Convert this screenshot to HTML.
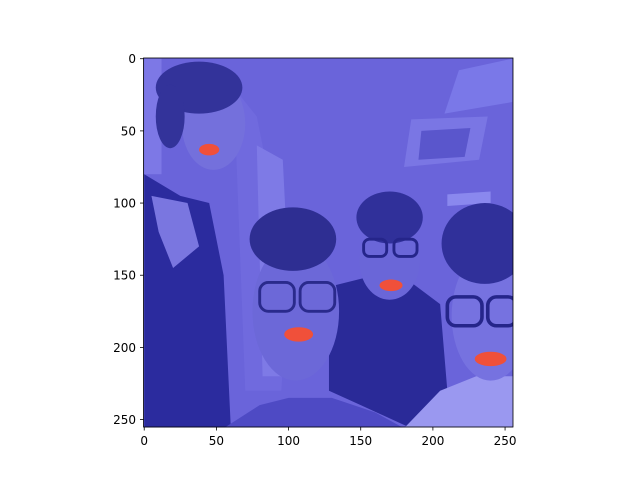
<!DOCTYPE html>
<html><head><meta charset="utf-8"><style>
html,body{margin:0;padding:0;background:#fff;width:640px;height:480px;overflow:hidden}
svg{position:absolute;left:0;top:0}
text{font-family:"DejaVu Sans","Liberation Sans",sans-serif;font-size:12px;fill:#000}
</style></head><body>
<svg width="640" height="480">
<g transform="translate(143.5,58) scale(1.4434)">
<svg x="0" y="0" width="256" height="256" viewBox="-0.5 -0.5 256 256">
<rect x="-0.5" y="-0.5" width="256" height="256" fill="#6a64da"/>
<rect x="0" y="0" width="12" height="80" fill="#7d78e6"/>
<polygon points="62,20 78,40 100,150 95,230 70,230" fill="#706ade"/>
<polygon points="78,60 96,70 100,150 96,220 82,220" fill="#7e7ae6"/>
<polygon points="218,8 255,0 255,30 208,38" fill="#7a78e8"/>
<polygon points="185,42 238,40 232,70 180,75" fill="#7a76e4"/>
<polygon points="192,50 226,48 222,68 190,70" fill="#5a56cc"/>
<polygon points="210,94 240,92 240,100 210,102" fill="#8a88ee"/>
<!-- person 1 -->
<polygon points="0,80 25,95 45,100 55,150 60,256 0,256" fill="#2b2b9e"/>
<polygon points="5,95 30,100 38,130 20,145 10,120" fill="#7a76e0"/>
<ellipse cx="48" cy="45" rx="22" ry="32" fill="#7470dc"/>
<ellipse cx="38" cy="20" rx="30" ry="18" fill="#33339a"/>
<ellipse cx="18" cy="40" rx="10" ry="22" fill="#33339a"/>
<!-- person 3 -->
<polygon points="128,158 160,150 185,155 205,170 210,230 185,256 150,240 128,230" fill="#2a2a98"/>
<ellipse cx="170" cy="140" rx="21" ry="27" fill="#6a66d8"/>
<ellipse cx="170" cy="110" rx="23" ry="18" fill="#30309a"/>
<rect x="152" y="125" width="16" height="12" rx="4" fill="none" stroke="#25258a" stroke-width="2"/>
<rect x="173" y="125" width="16" height="12" rx="4" fill="none" stroke="#25258a" stroke-width="2"/>
<!-- person 2 -->
<polygon points="55,256 80,240 100,235 130,235 160,245 180,256" fill="#4e4ac4"/>
<ellipse cx="105" cy="175" rx="30" ry="48" fill="#6c68d8"/>
<ellipse cx="103" cy="125" rx="30" ry="22" fill="#2e2e92"/>
<rect x="80" y="155" width="24" height="20" rx="6" fill="none" stroke="#2a2a8c" stroke-width="2"/>
<rect x="108" y="155" width="24" height="20" rx="6" fill="none" stroke="#2a2a8c" stroke-width="2"/>
<!-- person 4 -->
<polygon points="180,256 205,230 230,220 256,220 256,256" fill="#9a98f0"/>
<ellipse cx="240" cy="178" rx="27" ry="45" fill="#7672e0"/>
<ellipse cx="236" cy="128" rx="30" ry="28" fill="#30309a"/>
<rect x="210" y="165" width="24" height="20" rx="6" fill="none" stroke="#25258a" stroke-width="2.5"/>
<rect x="238" y="165" width="20" height="20" rx="6" fill="none" stroke="#25258a" stroke-width="2.5"/>
<g id="lips"></g>
</svg>
</g>
<rect x="143.5" y="58" width="369.5" height="369" fill="none" stroke="#000" stroke-width="0.8"/>
<g id="xt"></g>
<g id="yt"></g>
</svg>
<script>
const lipX=[45,107,171,240];
const lipY=[63,191,157,208];
const lipRX=[7,10,8,11];
const lipRY=[4,5,4,5];
const ticks=[0,50,100,150,200,250];
const ns="http://www.w3.org/2000/svg";
const L=143.5,T=58,S=369.5/256;
const sx=v=>L+(v+0.5)*S, sy=v=>T+(v+0.5)*S;
const lips=document.getElementById('lips');
lipX.forEach((x,i)=>{const e=document.createElementNS(ns,'ellipse');
e.setAttribute('cx',x);e.setAttribute('cy',lipY[i]);e.setAttribute('rx',lipRX[i]);e.setAttribute('ry',lipRY[i]);
e.setAttribute('fill','#f0503a');


lips.appendChild(e);});
const xt=document.getElementById('xt'),yt=document.getElementById('yt');
ticks.forEach(t=>{
 let l=document.createElementNS(ns,'line');l.setAttribute('x1',sx(t));l.setAttribute('x2',sx(t));l.setAttribute('y1',427);l.setAttribute('y2',430.5);l.setAttribute('stroke','#000');l.setAttribute('stroke-width','0.8');
 
 
 xt.appendChild(l);
 let tx=document.createElementNS(ns,'text');tx.setAttribute('x',sx(t));tx.setAttribute('y',445);tx.setAttribute('text-anchor','middle');tx.textContent=t;
 
 
 xt.appendChild(tx);
 let m=document.createElementNS(ns,'line');m.setAttribute('x1',140);m.setAttribute('x2',143.5);m.setAttribute('y1',sy(t));m.setAttribute('y2',sy(t));m.setAttribute('stroke','#000');m.setAttribute('stroke-width','0.8');
 
 
 yt.appendChild(m);
 let ty=document.createElementNS(ns,'text');ty.setAttribute('x',136);ty.setAttribute('y',sy(t)+4.5);ty.setAttribute('text-anchor','end');ty.textContent=t;
 
 
 yt.appendChild(ty);
});
</script>
</body></html>
